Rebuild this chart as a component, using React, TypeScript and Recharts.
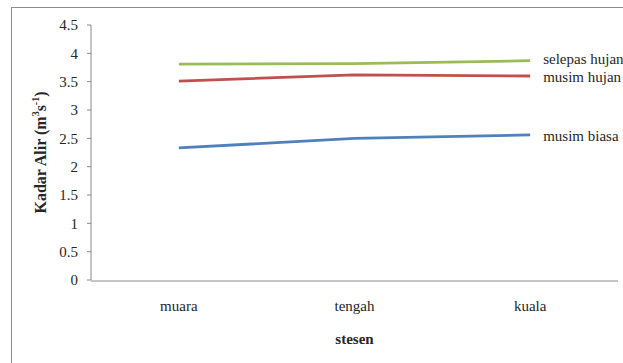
import React from "react";
import { LineChart, Line, XAxis, YAxis, Label } from "recharts";

const STATIONS = ["muara", "tengah", "kuala"];
const SELEPAS_HUJAN = [3.81, 3.82, 3.87];
const MUSIM_HUJAN = [3.51, 3.62, 3.6];
const MUSIM_BIASA = [2.33, 2.5, 2.56];
const Y_TICKS = [0, 0.5, 1, 1.5, 2, 2.5, 3, 3.5, 4, 4.5];
const BOUNDARY_TICKS = [0, 1, 2, 3];

const SERIES = [
  { key: "selepasHujan", name: "selepas hujan", color: "#9bbb59", dy: -2 },
  { key: "musimHujan", name: "musim hujan", color: "#c0504d", dy: 1 },
  { key: "musimBiasa", name: "musim biasa", color: "#4f81bd", dy: 1 },
];

const data = STATIONS.map((stesen, i) => ({
  stesen,
  selepasHujan: SELEPAS_HUJAN[i],
  musimHujan: MUSIM_HUJAN[i],
  musimBiasa: MUSIM_BIASA[i],
}));

const FONT = "'Liberation Serif', 'Times New Roman', serif";
const AXIS = "#8a8a8a";
const INK = "#262626";

const YTitle = (props: any) => {
  const { viewBox } = props;
  const cx = 40;
  const cy = viewBox.y + viewBox.height / 2;
  return (
    <text
      x={cx}
      y={cy}
      transform={`rotate(-90 ${cx} ${cy})`}
      textAnchor="middle"
      dominantBaseline="central"
      style={{ fontFamily: FONT, fontWeight: "bold", fontSize: 16 }}
      fill={INK}
    >
      Kadar Alir (m
      <tspan dy={-5} style={{ fontSize: 10 }}>3</tspan>
      <tspan dy={5}>s</tspan>
      <tspan dy={-5} style={{ fontSize: 10 }}>-1</tspan>
      <tspan dy={5}>)</tspan>
    </text>
  );
};

// series name written just right of the last point
const endLabel = (name: string, dy: number) => (p: any) =>
  p.index === STATIONS.length - 1 ? (
    <text
      key={name}
      x={p.x + 13}
      y={p.y + dy}
      dominantBaseline="central"
      style={{ fontFamily: FONT, fontSize: 15 }}
      fill={INK}
    >
      {name}
    </text>
  ) : null;

export default function App() {
  return (
    <div
      style={{
        position: "absolute",
        left: 0,
        top: 0,
        width: 623,
        height: 363,
        overflow: "hidden",
        background: "#fff",
        fontFamily: FONT,
      }}
    >
      <div
        style={{
          position: "absolute",
          left: 11,
          top: 7,
          width: 700,
          height: 400,
          border: "1.5px solid #8c8c8c",
        }}
      />
      <div style={{ position: "absolute", left: 0, top: 0 }}>
        <LineChart
          width={623}
          height={363}
          data={data}
          margin={{ top: 25, right: 5, bottom: 0, left: 0 }}
        >
          {/* station names, sitting right under the plot */}
          <XAxis
            dataKey="stesen"
            scale="band"
            axisLine={false}
            tickLine={false}
            tickSize={0}
            tickMargin={20}
            height={1}
            tick={{ fontFamily: FONT, fontSize: 15, fill: INK }}
          />
          {/* axis line with tick marks between the stations */}
          <XAxis
            xAxisId="grid"
            type="number"
            domain={[0, 3]}
            ticks={BOUNDARY_TICKS}
            tick={false}
            height={82}
            stroke={AXIS}
            tickSize={5}
            allowDataOverflow
          >
            <Label
              value="stesen"
              position="insideBottom"
              offset={19}
              style={{ fontFamily: FONT, fontSize: 15, fontWeight: "bold", fill: INK }}
            />
          </XAxis>
          <YAxis
            domain={[0, 4.5]}
            ticks={Y_TICKS}
            width={91}
            stroke={AXIS}
            tickSize={4}
            tickMargin={9}
            tick={{ fontFamily: FONT, fontSize: 15, fill: INK }}
          >
            <Label content={YTitle} />
          </YAxis>
          {SERIES.map((s) => (
            <Line
              key={s.key}
              dataKey={s.key}
              name={s.name}
              stroke={s.color}
              strokeWidth={2.8}
              dot={false}
              isAnimationActive={false}
              label={endLabel(s.name, s.dy)}
            />
          ))}
        </LineChart>
      </div>
    </div>
  );
}
